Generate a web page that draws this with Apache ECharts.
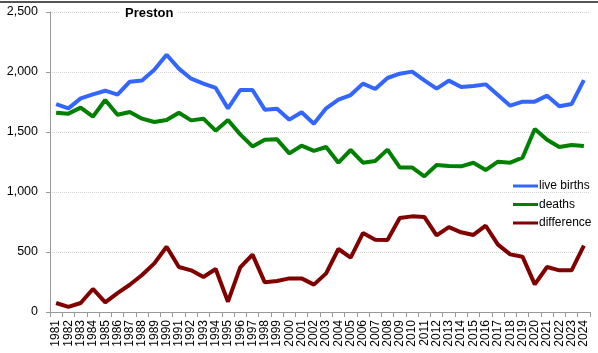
<!DOCTYPE html>
<html>
<head>
<meta charset="utf-8">
<script src="https://cdn.jsdelivr.net/npm/echarts@6/dist/echarts.min.js"></script>
<style>
  html, body { margin: 0; padding: 0; background: #fff; }
  #chart { width: 598px; height: 353px; }
</style>
</head>
<body>
<div id="chart"></div>
<script>
// years on the x axis
const years = [];
for (let y = 1981; y <= 2024; y++) years.push(String(y));

// values
const liveBirths = [1733, 1697, 1780, 1813, 1844, 1811, 1919, 1930, 2019, 2144,
  2028, 1944, 1903, 1867, 1697, 1850, 1850, 1686, 1694, 1603,
  1664, 1569, 1697, 1769, 1808, 1903, 1858, 1950, 1986, 2003,
  1930, 1861, 1928, 1875, 1883, 1897, 1808, 1719, 1753, 1753,
  1803, 1714, 1733, 1933];
const deaths = [1661, 1653, 1703, 1628, 1767, 1644, 1667, 1611, 1583, 1600,
  1661, 1597, 1611, 1511, 1600, 1480, 1380, 1436, 1439, 1322,
  1386, 1342, 1375, 1244, 1350, 1244, 1258, 1353, 1205, 1205,
  1130, 1225, 1217, 1214, 1244, 1183, 1253, 1244, 1286, 1525,
  1436, 1375, 1392, 1383];
const difference = [75, 42, 75, 192, 80, 158, 227, 308, 405, 544,
  375, 347, 292, 358, 86, 372, 478, 247, 258, 280,
  280, 228, 322, 525, 453, 658, 603, 600, 783, 797,
  792, 638, 708, 664, 642, 719, 561, 480, 461, 230,
  375, 347, 347, 553];

const yTicks = [0, 500, 1000, 1500, 2000, 2500];

const font = '"Liberation Sans", Arial, sans-serif';

const chart = echarts.init(document.getElementById("chart"));

const lineSeries = (name, data, color) => ({
  name: name,
  type: "line",
  data: data,
  symbol: "none",
  smooth: false,
  lineStyle: { color: color, width: 4 },
  itemStyle: { color: color },
});

chart.setOption({
  animation: false,
  backgroundColor: "#fff",
  textStyle: { fontFamily: font },
  title: {
    text: "Preston",
    left: 120,
    top: 5,
    padding: [2, 5],
    backgroundColor: "#fff",
    textStyle: { fontSize: 13, fontWeight: "bold", color: "#000", fontFamily: font },
  },
  legend: {
    orient: "vertical",
    left: 508,
    top: 174,
    itemWidth: 25,
    itemHeight: 3,
    itemGap: 4.5,
    icon: "rect",
    textStyle: { fontSize: 12, color: "#000", fontFamily: font, padding: [0, 0, 0, -4], lineHeight: 14 },
    data: ["live births", "deaths", "difference"],
  },
  grid: { left: 50, right: 8, top: 12, bottom: 41, containLabel: false },
  xAxis: {
    type: "category",
    data: years,
    boundaryGap: true,
    axisLine: { lineStyle: { color: "#999", width: 1 } },
    axisTick: { show: true, interval: 0, length: 5, lineStyle: { color: "#999" } },
    axisLabel: { interval: 0, rotate: 90, margin: 8, fontSize: 12, color: "#000", fontFamily: font },
  },
  yAxis: {
    type: "value",
    min: yTicks[0],
    max: yTicks[yTicks.length - 1],
    interval: 500,
    axisLine: { show: true, lineStyle: { color: "#999", width: 1 } },
    axisTick: { show: true, length: 4, lineStyle: { color: "#999" } },
    axisLabel: {
      fontSize: 12.5, color: "#000", margin: 12, fontFamily: font,
      formatter: (v) => v.toLocaleString("en-US"),
    },
    splitLine: { show: true, lineStyle: { color: "#d4d4d4", type: "dotted", width: 1 } },
  },
  graphic: [
    {
      type: "line",
      shape: { x1: 0, y1: 2, x2: 598, y2: 2 },
      style: { stroke: "#555", lineWidth: 2 },
      z: 100,
    },
  ],
  series: [
    lineSeries("live births", liveBirths, "#3366ff"),
    lineSeries("deaths", deaths, "#008000"),
    lineSeries("difference", difference, "#800000"),
  ],
});
</script>
</body>
</html>
